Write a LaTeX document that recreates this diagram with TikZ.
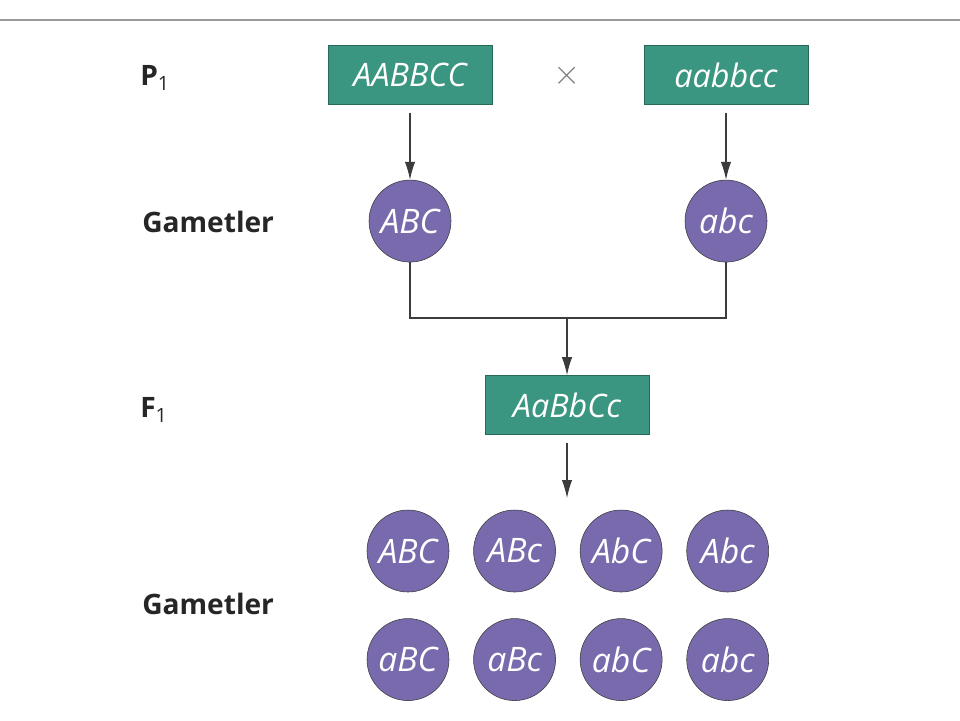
\documentclass[tikz,border=0pt]{standalone}
\usepackage{fontspec}
\setmainfont{Open Sans}
\usepackage{tikz}
\usetikzlibrary{positioning,arrows.meta}
\definecolor{crossteal}{RGB}{58,150,128}
\definecolor{crosstealdark}{RGB}{40,105,90}
\definecolor{gametepurple}{RGB}{120,106,172}
\definecolor{linegray}{RGB}{60,60,60}
\tikzset{
  parentbox/.style={rectangle, draw=crosstealdark, thin, fill=crossteal,
    minimum width=4.1cm, minimum height=1.475cm, inner sep=2pt, text=white,
    font=\fontsize{23}{27}\selectfont\itshape},
  gamete/.style={circle, draw=linegray, thin, fill=gametepurple,
    minimum size=2.05cm, inner sep=0pt, text=white,
    font=\fontsize{24}{28}\selectfont\itshape},
  rowlabel/.style={anchor=west, inner sep=0pt, text=black!85,
    font=\fontsize{20}{24}\selectfont\bfseries},
  arrowstyle/.style={-{Latex[length=4.5mm,width=2.6mm]}, linegray, thick}
}

\begin{document}
\begin{tikzpicture}[node distance=5mm]
  \useasboundingbox (0,0) rectangle (24,-18);
  \draw[gray!80, line width=0.8pt] (0,-0.5) -- (24,-0.5);
  % parents
  \node[parentbox] (p1) at (10.25,-1.875) {AABBCC};
  \node[parentbox] (p2) at (18.15,-1.875) {aabbcc};
  \node[font=\fontsize{30}{34}\selectfont, text=gray] (cross) at (14.175,-1.9) {$\times$};
  % first gametes
  \node[gamete, below=1.875cm of p1] (g1) {ABC};
  \node[gamete, below=1.875cm of p2] (g2) {abc};
  \draw[arrowstyle, shorten <=2mm] (p1) -- (g1);
  \draw[arrowstyle, shorten <=2mm] (p2) -- (g2);
  % F1
  \node[parentbox] (f1) at (14.175,-10.125) {AaBbCc};
  \coordinate (join) at (14.175,-7.95);
  \draw[linegray, thick] (g1.south) |- (join) -| (g2.south);
  \draw[arrowstyle] (join) -- (f1);
  \coordinate (f1end) at (14.175,-12.45);
  \draw[arrowstyle, shorten <=2mm] (f1) -- (f1end);
  % F1 gametes
  \node[gamete] (r1) at (10.2,-13.775) {ABC};
  \node[gamete, right=0.6cm of r1] (r2) {ABc};
  \node[gamete, right=0.6cm of r2] (r3) {AbC};
  \node[gamete, right=0.6cm of r3] (r4) {Abc};
  \node[gamete, below=0.65cm of r1] (s1) {aBC};
  \node[gamete, right=0.6cm of s1] (s2) {aBc};
  \node[gamete, right=0.6cm of s2] (s3) {abC};
  \node[gamete, right=0.6cm of s3] (s4) {abc};
  % row labels
  \node[rowlabel] (lp) at (3.5,-1.95) {P\textsubscript{\mdseries 1}};
  \node[rowlabel] (lg) at (3.55,-5.55) {Gametler};
  \node[rowlabel] (lf) at (3.5,-10.25) {F\textsubscript{\mdseries 1}};
  \node[rowlabel] (lg2) at (3.55,-15.1) {Gametler};
\end{tikzpicture}
\end{document}
